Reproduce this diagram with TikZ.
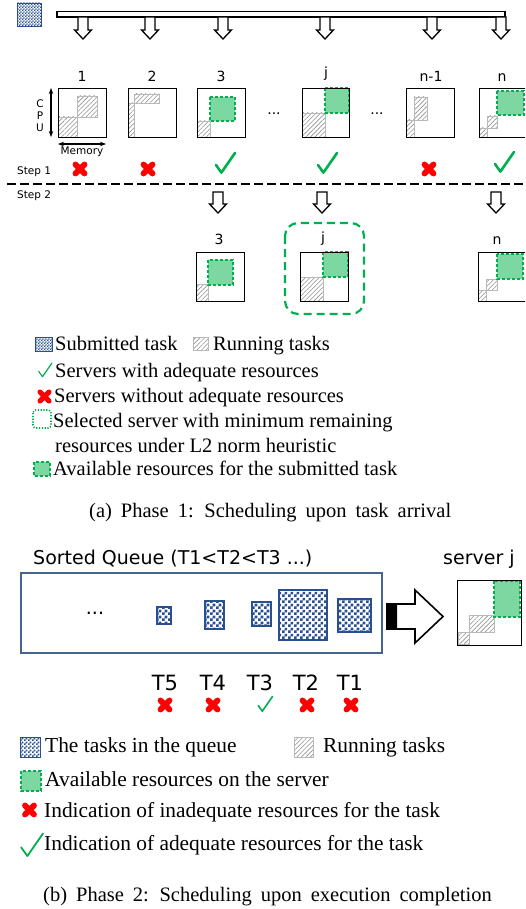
\documentclass[tikz,border=0pt]{standalone}
\usepackage{fontspec}
\setmainfont{Liberation Serif}
\newfontfamily\cfont{DejaVu Sans}
\usetikzlibrary{patterns,patterns.meta,arrows.meta}
\pgfdeclarepatternformonly{smallcheck}{\pgfqpoint{0pt}{0pt}}{\pgfqpoint{3.2pt}{3.2pt}}{\pgfqpoint{3.2pt}{3.2pt}}{%
 \pgfpathrectangle{\pgfqpoint{0pt}{0pt}}{\pgfqpoint{1.6pt}{1.6pt}}%
 \pgfpathrectangle{\pgfqpoint{1.6pt}{1.6pt}}{\pgfqpoint{1.6pt}{1.6pt}}%
 \pgfusepath{fill}}
\pgfdeclarepatternformonly{midcheck}{\pgfqpoint{0pt}{0pt}}{\pgfqpoint{4pt}{4pt}}{\pgfqpoint{4pt}{4pt}}{%
 \pgfpathrectangle{\pgfqpoint{0pt}{0pt}}{\pgfqpoint{2pt}{2pt}}%
 \pgfpathrectangle{\pgfqpoint{2pt}{2pt}}{\pgfqpoint{2pt}{2pt}}%
 \pgfusepath{fill}}
\pgfdeclarepatternformonly{bigcheck}{\pgfqpoint{0pt}{0pt}}{\pgfqpoint{6pt}{6pt}}{\pgfqpoint{6pt}{6pt}}{%
 \pgfpathrectangle{\pgfqpoint{0pt}{0pt}}{\pgfqpoint{3pt}{3pt}}%
 \pgfpathrectangle{\pgfqpoint{3pt}{3pt}}{\pgfqpoint{3pt}{3pt}}%
 \pgfusepath{fill}}
\definecolor{chkblue}{RGB}{40,80,145}
\definecolor{qblue}{RGB}{70,100,140}
\definecolor{avfill}{RGB}{125,215,160}
\definecolor{avline}{RGB}{0,176,80}
\definecolor{xred}{RGB}{255,0,0}
\tikzset{
 task/.style={fill=white, postaction={pattern=smallcheck, pattern color=chkblue}, draw=chkblue, line width=0.8pt},
 taskm/.style={fill=white, postaction={pattern=midcheck, pattern color=chkblue}, draw=chkblue, line width=1pt},
 taskb/.style={fill=white, postaction={pattern=bigcheck, pattern color=chkblue}, draw=chkblue, line width=1.3pt},
 run/.style={draw=gray!55, line width=0.8pt, pattern={Lines[angle=45,distance=3.2pt,line width=0.6pt]}, pattern color=gray!85},
 avail/.style={fill=avfill, draw=avline, dash pattern=on 3pt off 2pt, line width=1.4pt},
 srv/.style={draw=black, line width=0.9pt},
 blk/.style={draw=black, line width=1.3pt, fill=white, line join=miter},
 xst/.style={draw=xred, line cap=round},
 ck/.style={draw=avline, line cap=round, line join=round},
 lbl/.style={font=\cfont\fontsize{14}{14}\selectfont, inner sep=0},
 sml/.style={font=\cfont\fontsize{10.5}{11}\selectfont, inner sep=0},
 cbig/.style={font=\cfont\fontsize{19}{20}\selectfont, inner sep=0},
 tlab/.style={font=\cfont\fontsize{21}{22}\selectfont, inner sep=0, anchor=base},
 leg/.style={font=\fontsize{20.5}{24}\selectfont, inner sep=0, anchor=base west},
 legb/.style={font=\fontsize{21.4}{24}\selectfont, inner sep=0, anchor=base west},
}
\newcommand\dnarr[3]{\draw[blk] ({#1-5},#2) -- ({#1+5},#2) -- ({#1+5},{#3-9}) -- ({#1+8.5},{#3-9}) -- (#1,#3) -- ({#1-8.5},{#3-9}) -- ({#1-5},{#3-9}) -- cycle;}
\newcommand\xmk[3]{\draw[xst, line width=#3] ({#1-4.5},{#2-4.5}) -- ({#1+4.5},{#2+4.5}) ({#1-4.5},{#2+4.5}) -- ({#1+4.5},{#2-4.5});}
\newcommand\ckmk[4]{\draw[ck, line width=#4] ({#1-0.45*#3},{#2+0.1*#3}) -- ({#1-0.18*#3},{#2+0.48*#3}) -- ({#1+0.5*#3},{#2-0.5*#3});}
\begin{document}
\begin{tikzpicture}[x=1pt,y=-1pt]
\useasboundingbox (0,0) rectangle (525,909);
\clip (0,0) rectangle (525,909);
\fill[white] (0,0) rectangle (525,909);
% submitted task and bus
\draw[task] (17,3) rectangle (41,26);
\draw[line width=1.4pt, fill=white] (57,11.5) rectangle (505,17);
\foreach \x in {83,150,223,325,432,501} {\dnarr{\x}{17}{39}}
% labels
\node[lbl, anchor=base] (n1) at (82,82) {1};
\node[lbl, anchor=base] (n2) at (152,82) {2};
\node[lbl, anchor=base] (n3) at (221,82) {3};
\node[lbl, anchor=base] (nj) at (326,78) {j};
\node[lbl, anchor=base] (nn1) at (431,82) {n-1};
\node[lbl, anchor=base] (nn) at (502,82) {n};
% server 1
\draw[run] (58,117) rectangle (77,137);
\draw[run] (77,96) rectangle (97,117);
\draw[srv] (58,88) rectangle (106,137);
% server 2
\draw[run] (128,103) rectangle (134,137);
\draw[run] (134,94) rectangle (159,103);
\draw[srv] (128,88) rectangle (176,137);
% server 3
\draw[run] (197,121) rectangle (210,137);
\draw[avail] (210,97) rectangle (235,121);
\draw[srv] (197,88) rectangle (245,137);
% server j
\draw[run] (302,113) rectangle (325,137);
\draw[avail] (325,88) rectangle (349,113);
\draw[srv] (302,88) rectangle (349,137);
% server n-1
\draw[run] (406,120) rectangle (414,137);
\draw[run] (414,97) rectangle (427,120);
\draw[srv] (406,88) rectangle (454,137);
% server n
\draw[run] (479,128) rectangle (487,137);
\draw[run] (487,116) rectangle (497,128);
\draw[avail] (497,91) rectangle (524,115);
\draw[srv] (479,88) rectangle (527,137);
% dots
\node[lbl, anchor=center] (d1) at (274,114) {...};
\node[lbl, anchor=center] (d2) at (377,114) {...};
% axes
\draw[{Stealth[length=6pt]}-{Stealth[length=6pt]}, line width=1.5pt] (51,88) -- (51,137);
\draw[{Stealth[length=6pt]}-{Stealth[length=6pt]}, line width=1.5pt] (58,144) -- (106,144);
\node[sml, anchor=base] (cc) at (40,108) {C};
\node[sml, anchor=base] (cp) at (40,120) {P};
\node[sml, anchor=base] (cu) at (40,132) {U};
\node[sml, anchor=base] (mem) at (82,155) {Memory};
% step 1
\node[sml, anchor=base west] (s1) at (17,175) {Step 1};
\xmk{80}{169}{5.8pt}
\xmk{148}{169}{5.8pt}
\xmk{429}{169}{5.8pt}
\ckmk{225}{163}{20}{2.6pt}
\ckmk{327}{163}{20}{2.6pt}
\ckmk{504}{162}{20}{2.6pt}
\draw[line width=2.4pt, dash pattern=on 9pt off 4pt] (7,184) -- (525,184);
\node[sml, anchor=base west] (s2) at (17,199) {Step 2};
% step 2
\dnarr{218}{192}{213}
\dnarr{322}{192}{213}
\dnarr{496}{192}{213}
\node[lbl, anchor=base] (m3) at (219,244) {3};
\node[lbl, anchor=base] (mj) at (323,242) {j};
\node[lbl, anchor=base] (mn) at (497,244) {n};
\draw[run] (196,284) rectangle (208,301);
\draw[avail] (208,260) rectangle (233,285);
\draw[srv] (196,252) rectangle (244,301);
\draw[run] (300,277) rectangle (323,301);
\draw[avail] (323,252) rectangle (348,277);
\draw[srv] (300,252) rectangle (348,301);
\draw[run] (478,290) rectangle (486,301);
\draw[run] (486,279) rectangle (497,290);
\draw[avail] (497,254) rectangle (523,279);
\draw[srv] (478,252) rectangle (527,301);
\draw[avline, line width=2.2pt, dash pattern=on 8pt off 5pt, rounded corners=13pt] (285,223) rectangle (364,314);
% legend a
\draw[task] (35,337) rectangle (52,351);
\node[leg] (la1) at (55,350) {Submitted task};
\draw[run] (193,337) rectangle (208,350);
\node[leg] (la2) at (213,350) {Running tasks};
\ckmk{45}{370}{14}{1.2pt}
\node[leg] (la3) at (55,377) {Servers with adequate resources};
\xmk{44.5}{396.5}{5pt}
\node[leg] (la4) at (54,402) {Servers without adequate resources};
\draw[avline, line width=1.6pt, dash pattern=on 1.2pt off 1.6pt, rounded corners=3pt] (33,410) rectangle (51,428);
\node[leg] (la5) at (53,427) {Selected server with minimum remaining};
\node[leg] (la6) at (55,452) {resources under L2 norm heuristic};
\draw[avail] (34,462) rectangle (50,476);
\node[leg] (la7) at (53,475) {Available resources for the submitted task};
\node[leg] (capa) at (89,517) {\spaceskip=9pt plus 1pt (a) Phase 1: Scheduling upon task arrival};
% phase 2
\node[cbig, anchor=base west] (sq) at (33,564) {Sorted Queue (T1<T2<T3 ...)};
\node[cbig, anchor=base west] (sj) at (443,564) {server j};
\draw[qblue, line width=2pt, fill=white] (21,573) rectangle (382,653);
\node[cbig, anchor=center] (qd) at (95,613) {...};
\draw[taskb] (157,607) rectangle (171,624);
\draw[taskb] (205,601) rectangle (224,629);
\draw[taskb] (252,602) rectangle (271,626);
\draw[taskb] (279,590) rectangle (327,640);
\draw[taskb] (338,599) rectangle (371,632);
% big arrow
\draw[line width=1.6pt, fill=white, line join=miter] (387,604) -- (415,604) -- (415,590) -- (443,616.5) -- (415,643) -- (415,629) -- (387,629) -- cycle;
\fill[black, rounded corners=1.5pt] (387,603.5) rectangle (397,629.5);
% server j (phase 2)
\draw[run] (458,632) rectangle (469,644);
\draw[run] (469,615) rectangle (494,632);
\draw[avail] (494,581) rectangle (520,617);
\draw[srv] (457,580) rectangle (521,645);
% T labels
\node[tlab] (t5) at (165,690) {T5};
\node[tlab] (t4) at (213,690) {T4};
\node[tlab] (t3) at (260,690) {T3};
\node[tlab] (t2) at (306,690) {T2};
\node[tlab] (t1) at (350,690) {T1};
\xmk{165}{705}{5.8pt}
\xmk{213}{705}{5.8pt}
\xmk{307}{705}{5.8pt}
\xmk{351}{705}{5.8pt}
\ckmk{265}{704}{15}{1.6pt}
% legend b
\draw[taskm] (20,737) rectangle (40,757);
\node[legb] (lb1) at (45,752) {The tasks in the queue};
\draw[run] (294,737) rectangle (313,757);
\node[legb] (lb2) at (323,752) {Running tasks};
\draw[avail] (21,771) rectangle (41,791);
\node[legb] (lb3) at (45,786) {Available resources on the server};
\xmk{29.5}{810}{5.8pt}
\node[legb] (lb4) at (44,817) {Indication of inadequate resources for the task};
\ckmk{31.5}{845}{23}{1.8pt}
\node[legb] (lb5) at (44,850) {Indication of adequate resources for the task};
\node[leg] (capb) at (43,901) {\spaceskip=9pt plus 1pt (b) Phase 2: Scheduling upon execution completion};
\end{tikzpicture}
\end{document}
